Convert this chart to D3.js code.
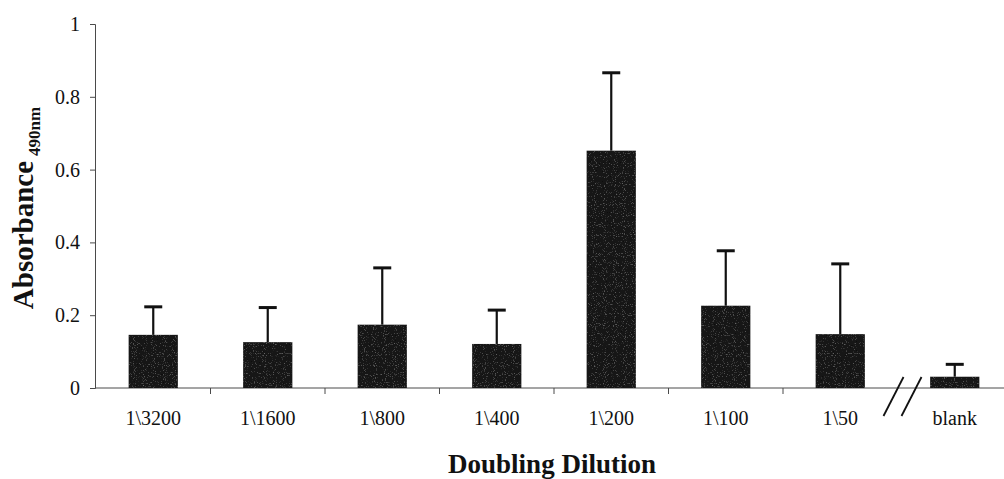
<!DOCTYPE html>
<html>
<head>
<meta charset="utf-8">
<script src="https://cdn.jsdelivr.net/npm/d3@7/dist/d3.min.js"></script>
<style>
  html, body { margin: 0; padding: 0; background: #fff; }
  svg { display: block; }
  text { font-family: "Liberation Serif", "Times New Roman", serif; fill: #111; }
</style>
</head>
<body>
<svg id="chart" width="1004" height="479"></svg>
<script>
// Mean absorbance at 490 nm for each doubling dilution, with upper SD
const categories = ["1\\3200", "1\\1600", "1\\800", "1\\400", "1\\200", "1\\100", "1\\50", "blank"];
const means = [0.146, 0.126, 0.174, 0.121, 0.652, 0.226, 0.148, 0.031];
const sds = [0.077, 0.095, 0.156, 0.093, 0.214, 0.151, 0.193, 0.034];
const yTicks = [0, 0.2, 0.4, 0.6, 0.8, 1];

const svg = d3.select("#chart");
const W = 1004;

const x = d3.scaleBand().domain(categories).range([96, 1012]).padding(0);
const y = d3.scaleLinear().domain([0, 1]).range([388, 24]);
const barW = x.bandwidth() * 0.43;

const axisColor = "#4a4a4a";

// y axis
const yAxis = svg.append("g")
  .attr("transform", "translate(95,0)")
  .call(d3.axisLeft(y).tickValues(yTicks).tickSize(5).tickPadding(10)
    .tickFormat(d3.format("~g")));
yAxis.select(".domain").attr("stroke", axisColor).attr("stroke-width", 1);
yAxis.selectAll(".tick line").attr("stroke", axisColor);
yAxis.selectAll(".tick text")
  .style("font-family", '"Liberation Serif", serif')
  .style("font-size", "20px").attr("fill", "#111");

// x axis baseline and category boundary ticks
svg.append("line")
  .attr("x1", 95).attr("x2", W).attr("y1", y(0)).attr("y2", y(0))
  .attr("stroke", axisColor).attr("stroke-width", 1);

const boundaries = categories.slice(1, categories.length - 1).map(c => x(c));
svg.append("g").selectAll("line").data(boundaries).join("line")
  .attr("x1", d => d).attr("x2", d => d)
  .attr("y1", y(0)).attr("y2", y(0) + 6)
  .attr("stroke", axisColor).attr("stroke-width", 1);

const xAxis = svg.append("g")
  .attr("transform", `translate(0,${y(0)})`)
  .call(d3.axisBottom(x).tickSize(0).tickPadding(23));
xAxis.select(".domain").remove();
xAxis.selectAll(".tick text")
  .style("font-family", '"Liberation Serif", serif')
  .style("font-size", "20px").attr("fill", "#111");

// axis break between the dilution series and the blank
const bx = x("blank");
svg.append("g").selectAll("line").data([-4, 14]).join("line")
  .attr("x1", d => bx + d - 10).attr("y1", y(0) + 28)
  .attr("x2", d => bx + d + 10).attr("y2", y(0) - 11)
  .attr("stroke", "#111").attr("stroke-width", 1.8);

// grain texture for the bars
const defs = svg.append("defs");
const f = defs.append("filter").attr("id", "grain").attr("x", 0).attr("y", 0)
  .attr("width", 1).attr("height", 1);
f.append("feTurbulence").attr("type", "fractalNoise").attr("baseFrequency", 0.9)
  .attr("numOctaves", 1).attr("seed", 3).attr("result", "noise");
f.append("feColorMatrix").attr("in", "noise").attr("type", "matrix")
  .attr("values", "0 0 0 0 0.35  0 0 0 0 0.35  0 0 0 0 0.35  0 0 0 1.6 -0.95")
  .attr("result", "speck");
f.append("feComposite").attr("in", "speck").attr("in2", "SourceGraphic")
  .attr("operator", "in").attr("result", "speckIn");
f.append("feMerge").call(m => {
  m.append("feMergeNode").attr("in", "SourceGraphic");
  m.append("feMergeNode").attr("in", "speckIn");
});

const data = categories.map((c, i) => ({ c, m: means[i], s: sds[i] }));

// bars
svg.append("g").selectAll("rect").data(data).join("rect")
  .attr("x", d => x(d.c) + x.bandwidth() / 2 - barW / 2)
  .attr("y", d => y(d.m))
  .attr("width", barW)
  .attr("height", d => y(0) - y(d.m))
  .attr("fill", "#161616")
  .attr("filter", "url(#grain)");

// upper error bars
const eb = svg.append("g");
eb.selectAll("line.v").data(data).join("line").attr("class", "v")
  .attr("x1", d => x(d.c) + x.bandwidth() / 2).attr("x2", d => x(d.c) + x.bandwidth() / 2)
  .attr("y1", d => y(d.m)).attr("y2", d => y(d.m + d.s))
  .attr("stroke", "#111").attr("stroke-width", 2.2);
eb.selectAll("line.cap").data(data).join("line").attr("class", "cap")
  .attr("x1", d => x(d.c) + x.bandwidth() / 2 - 9).attr("x2", d => x(d.c) + x.bandwidth() / 2 + 9)
  .attr("y1", d => y(d.m + d.s)).attr("y2", d => y(d.m + d.s))
  .attr("stroke", "#111").attr("stroke-width", 3);

// axis titles
const yt = svg.append("text")
  .attr("transform", `translate(33,${(y(0) + y(1)) / 2 + 2}) rotate(-90)`)
  .attr("text-anchor", "middle")
  .style("font-weight", "bold");
yt.append("tspan").style("font-size", "29px").text("Absorbance");
yt.append("tspan").style("font-size", "17px").attr("dx", 5).attr("dy", 7).text("490nm");

svg.append("text")
  .attr("x", 552).attr("y", 473)
  .attr("text-anchor", "middle")
  .style("font-weight", "bold").style("font-size", "27px")
  .text("Doubling Dilution");
</script>
</body>
</html>
